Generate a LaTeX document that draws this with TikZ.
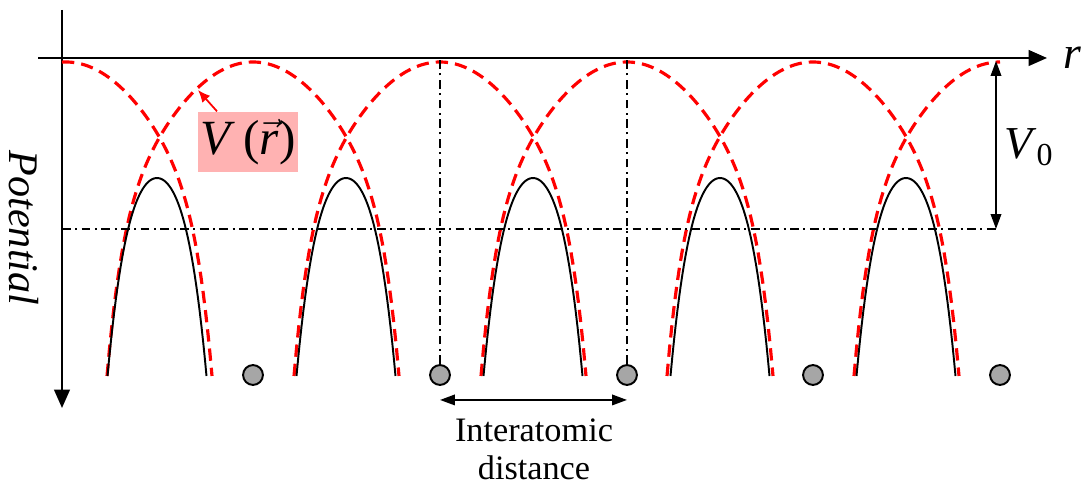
\documentclass[tikz,border=0pt]{standalone}
\usepackage{fontspec}
\setmainfont{Liberation Serif}
\usepackage{tikz}
\usetikzlibrary{arrows.meta,positioning}
\definecolor{vred}{RGB}{255,0,0}
\definecolor{vpink}{RGB}{255,178,178}
\definecolor{atomgray}{RGB}{166,166,166}

\begin{document}
\begin{tikzpicture}[x=0.02cm,y=-0.02cm,
    axis/.style={line width=1.1pt,-{Triangle[length=10.5pt,width=9pt]}},
    dim/.style={line width=1pt,{Triangle[length=8.5pt,width=6pt]}-{Triangle[length=8.5pt,width=6pt]}},
    level/.style={line width=0.9pt,dash pattern=on 5pt off 2.5pt on 1.2pt off 2.5pt},
    single/.style={vred,line width=1.8pt,dash pattern=on 7pt off 4pt},
    total/.style={black,line width=1.1pt},
    atom/.style={circle,draw,line width=1.1pt,fill=atomgray,minimum size=11.3pt,inner sep=0pt},
    lbl/.style={inner sep=0pt},
    vbox/.style={fill=vpink,minimum width=56.5pt,minimum height=34.5pt,inner sep=0pt,
                 font=\fontsize{28}{30}\selectfont},
    pointer/.style={vred,line width=1pt,-{Latex[length=7pt,width=6pt]}}
  ]
  \useasboundingbox (0,0) rectangle (1086,486);
  % axes
  \coordinate (rfrom) at (38,58);
  \coordinate (rto) at (1047,58);
  \coordinate (pfrom) at (62,10);
  \coordinate (pto) at (62,408);
  \coordinate (O) at (62,58);
  \draw[axis] (rfrom) -- (rto);
  \draw[axis] (pfrom) -- (pto);
  \node[lbl,font=\fontsize{26}{28}\selectfont,right=9pt of rto] (rlab) {\textit{r}};
  \node[lbl,rotate=-90,font=\fontsize{24}{26}\selectfont] (plab) at (24,228) {\textit{Potential}};
  % atoms
  \foreach \X [count=\i] in {253,440,627,813,1000}
    \node[atom] (a\i) at (\X,375) {};
  % single-atom potentials
  \draw[single] plot[domain=-4:146,samples=70]
    ({66+\x},{62+180*(\x/146)*(\x/146)+134*(abs(\x)/146)^10});
  \foreach \X in {253,440,627,813}
    \draw[single] plot[domain=-146:146,samples=120]
      ({\X+\x},{62+180*(\x/146)*(\x/146)+134*(abs(\x)/146)^10});
  \draw[single] plot[domain=-146:0,samples=70]
    ({1000+\x},{62+180*(\x/146)*(\x/146)+134*(abs(\x)/146)^10});
  % crystal potential
  \foreach \C in {157,346,533,720,906}
    \draw[total] plot[domain=-49.5:49.5,samples=60]
      ({\C+\x},{178+125*(\x/49.5)*(\x/49.5)+73*(abs(\x)/49.5)^4});
  % levels
  \coordinate (vtop) at (996,61);
  \coordinate (vbot) at (996,229);
  \draw[level] (O |- vbot) -- (vbot);
  \draw[level] (a2.north) -- (a2 |- O);
  \draw[level] (a3.north) -- (a3 |- O);
  \draw[dim] (vtop) -- (vbot);
  \node[lbl,font=\fontsize{26}{28}\selectfont] (v0lab) at (1029,147) {\textit{V}\textsubscript{0}};
  % label of V(r)
  \node[vbox] (vlab) at (248,142) {\textit{V}\,($\vec{\textit{r}}$)};
  \coordinate (vtip) at (198,90);
  \draw[pointer] ([xshift=10.8pt]vlab.north west) -- (vtip);
  % interatomic distance
  \draw[dim] ([yshift=-8pt]a2.south) -- ([yshift=-8pt]a3.south);
  \node[lbl,align=center,font=\fontsize{19.5}{21.5}\selectfont] (dlab) at (534,449) {Interatomic\\distance};
\end{tikzpicture}
\end{document}
